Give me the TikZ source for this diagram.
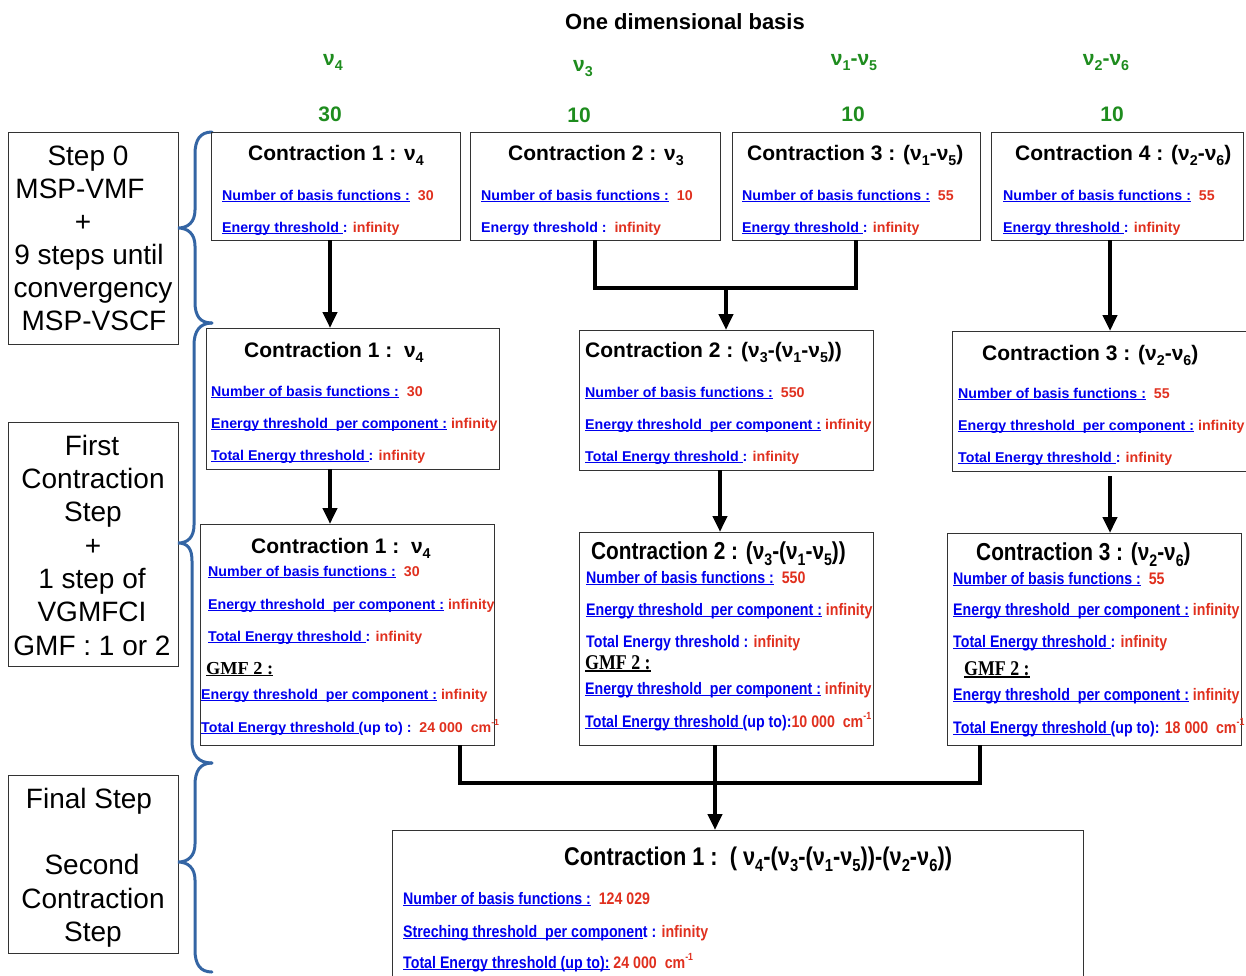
\documentclass[tikz,border=0pt]{standalone}
\usepackage{graphicx}
\usepackage{fontspec}
\setmainfont{Liberation Sans}
\newfontfamily\narfont[FakeStretch=0.85]{Liberation Sans}
\newfontfamily\serfont{Liberation Serif}
\newfontfamily\nserfont[FakeStretch=0.85]{Liberation Serif}
\usetikzlibrary{arrows.meta}
\definecolor{myblue}{HTML}{0000EE}
\definecolor{myred}{HTML}{E0301E}
\definecolor{mygreen}{HTML}{1E8C1E}
\definecolor{braceblue}{HTML}{3465A4}
\newcommand\ul[1]{\leavevmode\setbox0\hbox{#1}\rlap{\rule[-0.13em]{\wd0}{0.07em}}\box0\relax}
\newcommand\rd[1]{\textcolor{myred}{#1}}
\newcommand\sbs[1]{\raisebox{-0.27em}{\scalebox{0.68}{#1}}}
\newcommand\sps[1]{\raisebox{0.45em}{\scalebox{0.62}{#1}}}
\tikzset{
  box/.style={draw=black!80, line width=1pt, anchor=north west, inner sep=0pt, outer sep=0pt},
  ttl/.style={anchor=base west, inner sep=0pt, font=\fontsize{21}{21}\selectfont\bfseries},
  ln/.style={anchor=base west, inner sep=0pt, text=myblue, font=\fontsize{14.2}{14}\selectfont\bfseries},
  nttl/.style={anchor=base west, inner sep=0pt, font=\narfont\fontsize{24.5}{24}\selectfont\bfseries},
  nln/.style={anchor=base west, inner sep=0pt, text=myblue, font=\narfont\fontsize{16.7}{16}\selectfont\bfseries},
  gmf/.style={anchor=base west, inner sep=0pt, font=\serfont\fontsize{18.3}{18}\selectfont\bfseries},
  ngmf/.style={anchor=base west, inner sep=0pt, font=\nserfont\fontsize{21}{21}\selectfont\bfseries},
  lft/.style={anchor=base, inner sep=0pt, font=\fontsize{28}{28}\selectfont},
  grn/.style={anchor=base, inner sep=0pt, text=mygreen, font=\fontsize{21}{21}\selectfont\bfseries},
  arr/.style={line width=4pt, -{Triangle[width=14pt,length=16pt]}},
  bar/.style={line width=4pt},
  brace/.style={draw=braceblue, line width=3pt, line cap=round},
}
\begin{document}
\begin{tikzpicture}[x=1pt,y=-1pt]
\useasboundingbox (0,0) rectangle (1246,975);

% header
\node[anchor=base, inner sep=0pt, font=\fontsize{22}{22}\selectfont\bfseries] (hdr) at (685,29) {One dimensional basis};
\node[grn] (g1) at (333,65) {ν\sbs{4}};
\node[grn] (g2) at (583,71) {ν\sbs{3}};
\node[grn] (g3) at (854,65) {ν\sbs{1}-ν\sbs{5}};
\node[grn] (g4) at (1106,65) {ν\sbs{2}-ν\sbs{6}};
\node[grn] (n1) at (330,121) {30};
\node[grn] (n2) at (579,122) {10};
\node[grn] (n3) at (853,121) {10};
\node[grn] (n4) at (1112,121) {10};

% left boxes
\node[box, minimum width=170pt, minimum height=212pt] (l1) at (8,132) {};
\node[box, minimum width=170pt, minimum height=244pt] (l2) at (8,422) {};
\node[box, minimum width=170pt, minimum height=178pt] (l3) at (8,775) {};
\node[lft] (l1a) at (88,165) {Step 0};
\node[lft] (l1b) at (80,198) {MSP-VMF};
\node[lft] (l1c) at (83,231) {+};
\node[lft] (l1d) at (89,264) {9 steps until};
\node[lft] (l1e) at (93,297) {convergency};
\node[lft] (l1f) at (94,330) {MSP-VSCF};
\node[lft] (l2a) at (92,455) {First};
\node[lft] (l2b) at (93,488) {Contraction};
\node[lft] (l2c) at (93,521) {Step};
\node[lft] (l2d) at (93,555) {+};
\node[lft] (l2e) at (92,588) {1 step of};
\node[lft] (l2f) at (92,621) {VGMFCI};
\node[lft] (l2g) at (92,655) {GMF : 1 or 2};
\node[lft] (l3a) at (89,808) {Final Step};
\node[lft] (l3b) at (92,874) {Second};
\node[lft] (l3c) at (93,908) {Contraction};
\node[lft] (l3d) at (93,941) {Step};

% braces
\draw[brace] (212,132) .. controls (200,132) and (195,140) .. (195,154) -- (195,210) .. controls (195,222) and (188,228) .. (178,228) .. controls (188,228) and (195,234) .. (195,246) -- (195,302) .. controls (195,316) and (200,323) .. (212,323);
\draw[brace] (212,323) .. controls (200,323) and (194,331) .. (194,345) -- (194,525) .. controls (194,537) and (188,543) .. (178,543) .. controls (188,543) and (192,549) .. (192,561) -- (192,741) .. controls (192,755) and (198,763) .. (212,763);
\draw[brace] (212,763) .. controls (200,763) and (195,771) .. (195,785) -- (195,844) .. controls (195,856) and (188,862) .. (178,862) .. controls (188,862) and (195,868) .. (195,880) -- (195,950) .. controls (195,964) and (200,972) .. (212,972);

% top row
\node[box, minimum width=249pt, minimum height=108pt] (t1) at (211,132) {};
\node[box, minimum width=250pt, minimum height=108pt] (t2) at (470,132) {};
\node[box, minimum width=248pt, minimum height=108pt] (t3) at (732,132) {};
\node[box, minimum width=252pt, minimum height=108pt] (t4) at (991,132) {};
\node[ttl] (t1t) at (248,160) {Contraction 1 : ν\sbs{4}};
\node[ln] (t1a) at (222,200) {\ul{Number of basis functions :}\ \ \rd{30}};
\node[ln] (t1b) at (222,232) {\ul{Energy threshold }: \rd{infinity}};
\node[ttl] (t2t) at (508,160) {Contraction 2 : ν\sbs{3}};
\node[ln] (t2a) at (481,200) {\ul{Number of basis functions :}\ \ \rd{10}};
\node[ln] (t2b) at (481,232) {Energy threshold :\ \ \rd{infinity}};
\node[ttl] (t3t) at (747,160) {Contraction 3 : (ν\sbs{1}-ν\sbs{5})};
\node[ln] (t3a) at (742,200) {\ul{Number of basis functions :}\ \ \rd{55}};
\node[ln] (t3b) at (742,232) {\ul{Energy threshold }: \rd{infinity}};
\node[ttl] (t4t) at (1015,160) {Contraction 4 : (ν\sbs{2}-ν\sbs{6})};
\node[ln] (t4a) at (1003,200) {\ul{Number of basis functions :}\ \ \rd{55}};
\node[ln] (t4b) at (1003,232) {\ul{Energy threshold }: \rd{infinity}};

% middle row
\node[box, minimum width=293pt, minimum height=141pt] (m1) at (206,328) {};
\node[box, minimum width=294pt, minimum height=140pt] (m2) at (579,330) {};
\node[box, minimum width=296pt, minimum height=140pt] (m3) at (952,331) {};
\node[ttl] (m1t) at (244,357) {Contraction 1 :\ \ ν\sbs{4}};
\node[ln] (m1a) at (211,396) {\ul{Number of basis functions :}\ \ \rd{30}};
\node[ln] (m1b) at (211,428) {\ul{Energy threshold\ \ per component :} \rd{infinity}};
\node[ln] (m1c) at (211,460) {\ul{Total Energy threshold }: \rd{infinity}};
\node[ttl] (m2t) at (585,357) {Contraction 2 : (ν\sbs{3}-(ν\sbs{1}-ν\sbs{5}))};
\node[ln] (m2a) at (585,397) {\ul{Number of basis functions :}\ \ \rd{550}};
\node[ln] (m2b) at (585,429) {\ul{Energy threshold\ \ per component :} \rd{infinity}};
\node[ln] (m2c) at (585,461) {\ul{Total Energy threshold }: \rd{infinity}};
\node[ttl] (m3t) at (982,360) {Contraction 3 : (ν\sbs{2}-ν\sbs{6})};
\node[ln] (m3a) at (958,398) {\ul{Number of basis functions :}\ \ \rd{55}};
\node[ln] (m3b) at (958,430) {\ul{Energy threshold\ \ per component :} \rd{infinity}};
\node[ln] (m3c) at (958,462) {\ul{Total Energy threshold }: \rd{infinity}};

% bottom row
\node[box, minimum width=294pt, minimum height=221pt] (b1) at (200,524) {};
\node[box, minimum width=294pt, minimum height=213pt] (b2) at (579,532) {};
\node[box, minimum width=294pt, minimum height=212pt] (b3) at (947,533) {};
\node[ttl] (b1t) at (251,553) {Contraction 1 :\ \ ν\sbs{4}};
\node[ln] (b1a) at (208,576) {\ul{Number of basis functions :}\ \ \rd{30}};
\node[ln] (b1b) at (208,609) {\ul{Energy threshold\ \ per component :} \rd{infinity}};
\node[ln] (b1c) at (208,641) {\ul{Total Energy threshold }: \rd{infinity}};
\node[gmf] (b1g) at (206,674) {\ul{GMF 2 :}};
\node[ln] (b1d) at (201,699) {\ul{Energy threshold\ \ per component :} \rd{infinity}};
\node[ln] (b1e) at (201,732) {\ul{Total Energy threshold }(up to) :\ \ \rd{24 000\ \ cm\sps{-1}}};

\node[nttl] (b2t) at (591,559) {Contraction 2 : (ν\sbs{3}-(ν\sbs{1}-ν\sbs{5}))};
\node[nln] (b2a) at (586,583) {\ul{Number of basis functions :}\ \ \rd{550}};
\node[nln] (b2b) at (586,615) {\ul{Energy threshold\ \ per component :} \rd{infinity}};
\node[nln] (b2c) at (586,647) {Total Energy threshold : \rd{infinity}};
\node[ngmf] (b2g) at (585,669) {\ul{GMF 2 :}};
\node[nln] (b2d) at (585,694) {\ul{Energy threshold\ \ per component :} \rd{infinity}};
\node[nln] (b2e) at (585,727) {\ul{Total Energy threshold }(up to):\rd{10 000\ \ cm\sps{-1}}};

\node[nttl] (b3t) at (976,560) {Contraction 3 : (ν\sbs{2}-ν\sbs{6})};
\node[nln] (b3a) at (953,584) {\ul{Number of basis functions :}\ \ \rd{55}};
\node[nln] (b3b) at (953,615) {\ul{Energy threshold\ \ per component :} \rd{infinity}};
\node[nln] (b3c) at (953,647) {\ul{Total Energy threshold }: \rd{infinity}};
\node[ngmf] (b3g) at (964,675) {\ul{GMF 2 :}};
\node[nln] (b3d) at (953,700) {\ul{Energy threshold\ \ per component :} \rd{infinity}};
\node[nln] (b3e) at (953,733) {\ul{Total Energy threshold }(up to): \rd{18 000\ \ cm\sps{-1}}};

% final box
\node[box, minimum width=691pt, minimum height=160pt] (f) at (392,830) {};
\node[nttl, font=\narfont\fontsize{25.6}{25}\selectfont\bfseries] (ft) at (564,865) {Contraction 1 :\ \ ( ν\sbs{4}-(ν\sbs{3}-(ν\sbs{1}-ν\sbs{5}))-(ν\sbs{2}-ν\sbs{6}))};
\node[nln] (fa) at (403,904) {\ul{Number of basis functions :}\ \ \rd{124 029}};
\node[nln] (fb) at (403,937) {\ul{Streching threshold\ \ per componen}t : \rd{infinity}};
\node[nln] (fc) at (403,968) {\ul{Total Energy threshold (up to):} \rd{24 000\ \ cm\sps{-1}}};

% connectors
\draw[arr] ([xshift=-5.5pt]t1.south) -- ([xshift=-5.5pt]t1.south |- m1.north);
\coordinate (j1) at (726,288);
\draw[bar] (t2.south) |- (j1) -| (t3.south);
\draw[arr] (j1) -- (m2.north);
\draw[arr] ([xshift=-7pt]t4.south) -- ([xshift=-7pt]t4.south |- m3.north);
\draw[arr] ([xshift=-22.5pt]m1.south) -- ([xshift=-22.5pt]m1.south |- b1.north);
\draw[arr] ([xshift=-6pt]m2.south) -- ([xshift=-6pt]m2.south |- b2.north);
\draw[arr] ([xshift=10pt,yshift=-5pt]m3.south) -- ([xshift=10pt]m3.south |- b3.north);
\coordinate (j2) at (715,783);
\draw[bar] ([xshift=113pt]b1.south) |- (j2) -| ([xshift=-114pt]b3.south);
\draw[arr] ([xshift=-11pt]b2.south) -- ([xshift=-11pt]b2.south |- f.north);
\end{tikzpicture}
\end{document}
